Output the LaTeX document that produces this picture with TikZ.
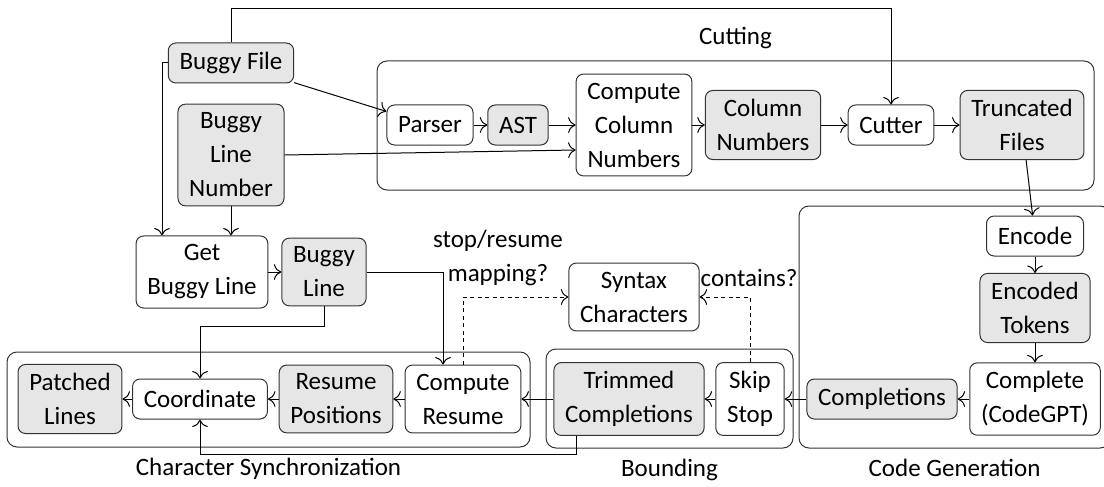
\documentclass[tikz,border=0pt]{standalone}
\usepackage{fontspec}
\setmainfont{Carlito}
\usetikzlibrary{positioning,fit,calc,arrows.meta}
\definecolor{datagray}{RGB}{230,230,230}
\tikzset{%
	proc/.style = {draw=black!80,rounded corners=3pt,align=center,inner xsep=4.5pt,inner ysep=3.5pt,minimum height=16pt,line width=0.4pt},
	data/.style = {proc,fill=datagray},
	group/.style = {draw=black!80,rounded corners=4pt,inner sep=0pt,line width=0.4pt},
	grouplabel/.style = {inner sep=0pt},
	flow/.style = {-{To[length=3pt]},line width=0.4pt},
	query/.style = {flow,dash pattern=on 1.5pt off 1.5pt}%
}

\begin{document}
\begin{tikzpicture}[x=0.4pt,y=-0.4pt,font=\fontsize{10}{13.6}\selectfont]
		\useasboundingbox (0,0) rectangle (1104,486);
		
		\node[group,fit={(377,61) (1094,190)}](cut){};
		\node[group,fit={(7,352) (530,447)}](sync){};
		\node[group,fit={(546,349) (793,448)}](bound){};
		\node[group,fit={(799,206) (1110,448)}](gen){};
		\node[grouplabel,above=4.4pt of cut]{Cutting};
		\node[grouplabel,below=4pt of sync]{Character Synchronization};
		\node[grouplabel,below=4pt of bound]{Bounding};
		\node[grouplabel,below=4pt of gen]{Code Generation};
		
		\node[data](bf) at (231,63){Buggy File};
		\node[data](bln) at (231,155){Buggy\\Line\\Number};
		\node[proc](parser) at (430,125){Parser};
		\node[data](ast) at (518,125){AST};
		\node[proc](ccn) at (634,125){Compute\\Column\\Numbers};
		\node[data](cn) at (763,125){Column\\Numbers};
		\node[proc](cutter) at (891,125){Cutter};
		\node[data](tf) at (1022,125){Truncated\\Files};
		\node[proc](gbl) at (202,272){Get\\Buggy Line};
		\node[data](bl) at (324,272){Buggy\\Line};
		\node[proc](sc) at (634,297){Syntax\\Characters};
		\node[data](pl) at (70,399){Patched\\Lines};
		\node[proc](coord) at (200,399){Coordinate};
		\node[data](rp) at (336,399){Resume\\Positions};
		\node[proc](cr) at (463,399){Compute\\Resume};
		\node[data](tc) at (629,399){Trimmed\\Completions};
		\node[proc](ss) at (750,399){Skip\\Stop};
		\node[data](comp) at (882,399){Completions};
		\node[proc](cg) at (1035,399){Complete\\(CodeGPT)};
		\node[data](et) at (1035,308){Encoded\\Tokens};
		\node[proc](enc) at (1035,236){Encode};
		\node[grouplabel,align=center](qmap) at (498,258){stop/resume\\mapping?};
		\node[grouplabel](qcont) at (749,278){contains?};
		
		\draw[flow](bf.north)--++(0,-34)-|(cutter.north);
		\draw[flow](bf)--(parser);
		\draw[flow](bf.west)-|($(gbl.north)+(-40,0)$);
		\draw[flow](bln.south)--(bln.south|-gbl.north);
		\draw[flow](bln.east)--($(ccn.west)+(0,25)$);
		\draw[flow](parser)--(ast);
		\draw[flow](ast)--(ccn);
		\draw[flow](ccn)--(cn);
		\draw[flow](cn)--(cutter);
		\draw[flow](cutter)--(tf);
		\draw[flow](tf)--(enc);
		\draw[flow](enc)--(et);
		\draw[flow](et)--(cg);
		\draw[flow](cg)--(comp);
		\draw[flow](comp)--(ss);
		\draw[flow](ss)--(tc);
		\draw[flow](tc)--(cr);
		\draw[flow](cr)--(rp);
		\draw[flow](rp)--(coord);
		\draw[flow](coord)--(pl);
		\draw[flow](gbl)--(bl);
		\draw[flow](bl.east)-|($(cr.north)+(-20,0)$);
		\draw[flow](bl.south)--++(0,20)-|(coord.north);
		\draw[flow]($(tc.south)+(-53,0)$)--++(0,19)-|(coord.south);
		\draw[query](cr.north)|-(sc.west);
		\draw[query](ss.north)|-(sc.east);
\end{tikzpicture}
\end{document}
